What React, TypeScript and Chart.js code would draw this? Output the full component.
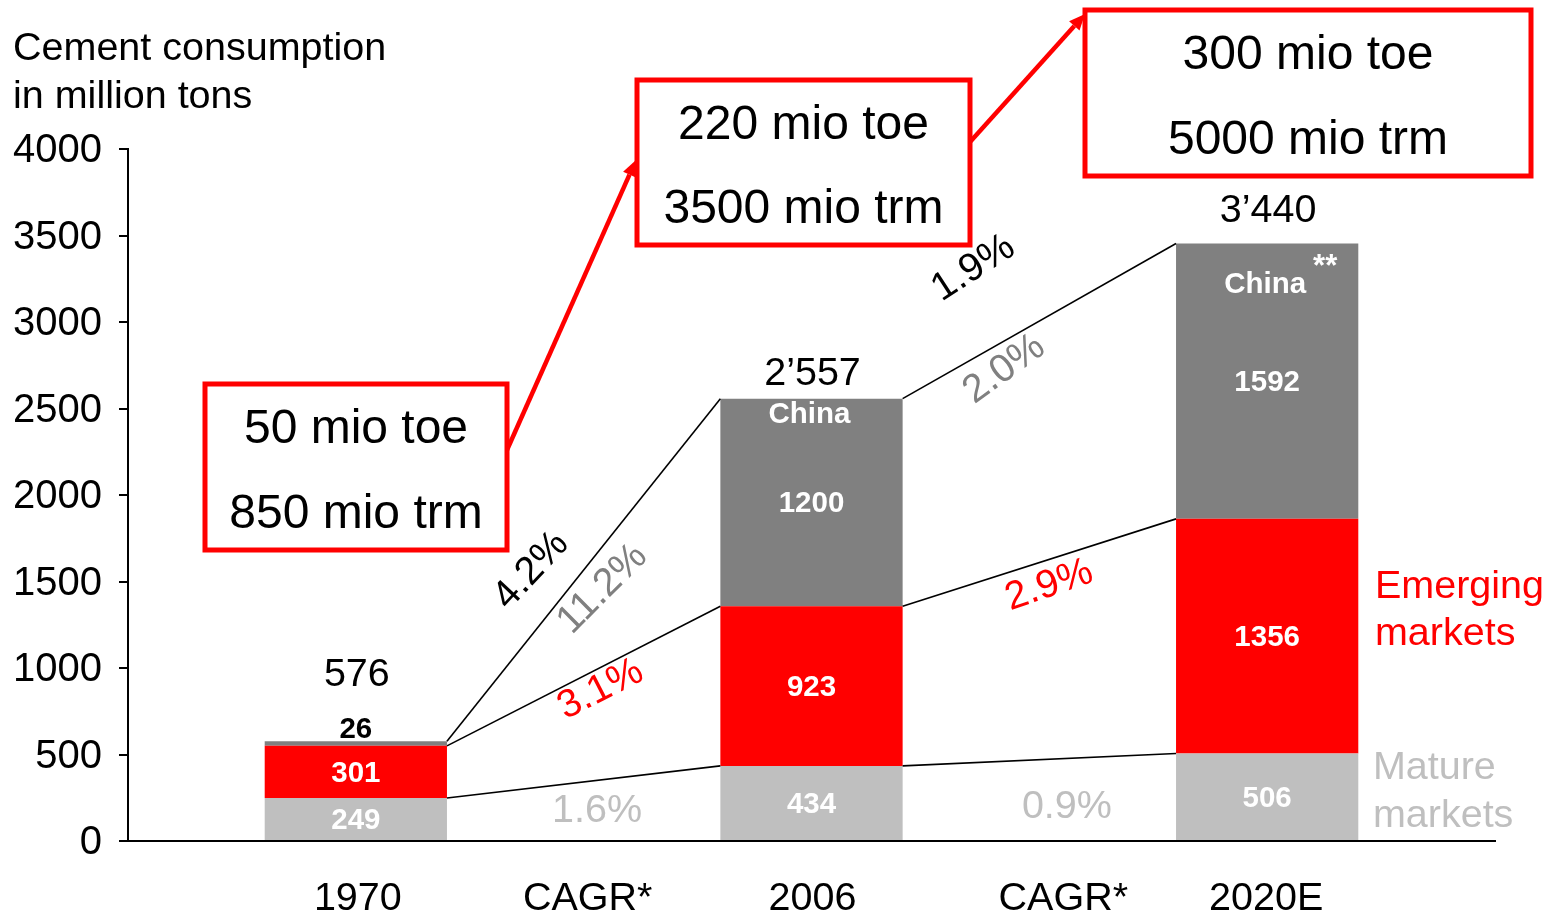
import React, { useEffect, useRef } from 'react';
import { Chart, registerables } from 'chart.js';

Chart.register(...registerables);

// ---- data ----
const categories = ['', '1970', 'CAGR*', '2006', 'CAGR*', '2020E', ''];
const matureMarkets = [null, 249, null, 434, null, 506, null];
const emergingMarkets = [null, 301, null, 923, null, 1356, null];
const china = [null, 26, null, 1200, null, 1592, null];
const totals = [576, 2557, 3440];

const cagrTotal = ['4.2%', '1.9%'];
const cagrChina = ['11.2%', '2.0%'];
const cagrEmerging = ['3.1%', '2.9%'];
const cagrMature = ['1.6%', '0.9%'];

const energyToe = [50, 220, 300];
const energyTrm = [850, 3500, 5000];

const yMin = 0;
const yMax = 4000;
const yStep = 500;

// ---- styling ----
const FONT = '"Liberation Sans", Arial, Helvetica, sans-serif';
const RED = '#ff0000';
const DARK = '#808080';
const LIGHT = '#bfbfbf';
const TXT = 39.5;
const BOLD_TXT = 29.5;

const W = 1555;
const H = 913;

// placement of growth-rate labels, in (category index, value) space
const cagrPlacement = {
  total: [
    { x: 1.762, y: 1572, rot: -47 },
    { x: 3.705, y: 3322, rot: -33 },
  ],
  china: [
    { x: 2.076, y: 1466, rot: -45 },
    { x: 3.84, y: 2738, rot: -36 },
  ],
  emerging: [
    { x: 2.07, y: 888, rot: -27 },
    { x: 4.04, y: 1490, rot: -19 },
  ],
  mature: [
    { x: 2.059, y: 185, rot: 0 },
    { x: 4.121, y: 208, rot: 0 },
  ],
};

const xLabelShift = [0, 2, 4, 1, 24, -1, 0];
const totalGap = [69, 27, 35];
const chinaLabelDrop = [0, 14, 40];

const energyBoxes = [
  { l: 205, t: 384, r: 507, b: 550 },
  { l: 637, t: 80, r: 970, b: 245 },
  { l: 1085, t: 10, r: 1531, b: 176 },
];
const arrows = [
  { x1: 507, y1: 450, x2: 636, y2: 160 },
  { x1: 970, y1: 142, x2: 1085, y2: 14 },
];

function fmtThousands(n: number) {
  return String(n).replace(/\B(?=(\d{3})+(?!\d))/g, '\u2019');
}

function drawText(
  ctx: CanvasRenderingContext2D,
  s: string,
  x: number,
  y: number,
  size: number,
  color: string,
  opts: { bold?: boolean; align?: CanvasTextAlign; rot?: number; baseline?: CanvasTextBaseline } = {}
) {
  ctx.save();
  ctx.translate(x, y);
  if (opts.rot) ctx.rotate((opts.rot * Math.PI) / 180);
  ctx.font = `${opts.bold ? 'bold ' : ''}${size}px ${FONT}`;
  ctx.fillStyle = color;
  ctx.textAlign = opts.align || 'center';
  const baseline = opts.baseline || 'middle';
  ctx.textBaseline = baseline;
  // nudge so that digits and capitals sit visually centred on y
  ctx.fillText(s, 0, baseline === 'middle' ? size * 0.06 : 0);
  ctx.restore();
}

const decorations = {
  id: 'decorations',
  afterDatasetsDraw(chart: any) {
    const ctx: CanvasRenderingContext2D = chart.ctx;
    const xs = chart.scales.x;
    const ys = chart.scales.y;
    const area = chart.chartArea;
    const barIdx = [1, 3, 5];

    // connectors between the tops of matching segments
    ctx.save();
    ctx.strokeStyle = '#000';
    ctx.lineWidth = 1.6;
    for (let d = 0; d < 3; d++) {
      const meta = chart.getDatasetMeta(d);
      for (let k = 0; k < barIdx.length - 1; k++) {
        const a = meta.data[barIdx[k]];
        const b = meta.data[barIdx[k + 1]];
        ctx.beginPath();
        ctx.moveTo(a.x + a.width / 2, a.y);
        ctx.lineTo(b.x - b.width / 2, b.y);
        ctx.stroke();
      }
    }
    ctx.restore();

    // segment values
    for (let d = 0; d < 3; d++) {
      const meta = chart.getDatasetMeta(d);
      const values = chart.data.datasets[d].data;
      barIdx.forEach((i) => {
        const el = meta.data[i];
        const v = values[i];
        if (v == null) return;
        const h = el.base - el.y;
        if (h < 30) {
          drawText(ctx, String(v), el.x, el.y - 13, BOLD_TXT, '#000', { bold: true });
        } else {
          drawText(ctx, String(v), el.x, (el.y + el.base) / 2, BOLD_TXT, '#fff', { bold: true });
        }
      });
    }

    // "China" captions
    const chinaMeta = chart.getDatasetMeta(2);
    barIdx.forEach((i, k) => {
      if (!chinaLabelDrop[k]) return;
      const el = chinaMeta.data[i];
      drawText(ctx, 'China', el.x - 2, el.y + chinaLabelDrop[k], BOLD_TXT, '#fff', { bold: true });
      if (k === 2) drawText(ctx, '**', el.x + 58, el.y + 22, 31, '#fff', { bold: true });
    });

    // totals
    barIdx.forEach((i, k) => {
      const el = chinaMeta.data[i];
      drawText(ctx, fmtThousands(totals[k]), el.x + 1, el.y - totalGap[k], TXT, '#000');
    });

    // growth rates
    const put = (labels: string[], places: any[], color: string) => {
      labels.forEach((s, k) => {
        const p = places[k];
        drawText(ctx, s, xs.getPixelForValue(p.x), ys.getPixelForValue(p.y), TXT, color, { rot: p.rot });
      });
    };
    put(cagrTotal, cagrPlacement.total, '#000');
    put(cagrChina, cagrPlacement.china, DARK);
    put(cagrEmerging, cagrPlacement.emerging, RED);
    put(cagrMature, cagrPlacement.mature, LIGHT);

    // series names on the right
    drawText(ctx, 'Emerging', xs.getPixelForValue(5.473), ys.getPixelForValue(1480), TXT, RED, { align: 'left' });
    drawText(ctx, 'markets', xs.getPixelForValue(5.473), ys.getPixelForValue(1208), TXT, RED, { align: 'left' });
    drawText(ctx, 'Mature', xs.getPixelForValue(5.464), ys.getPixelForValue(434), TXT, LIGHT, { align: 'left' });
    drawText(ctx, 'markets', xs.getPixelForValue(5.464), ys.getPixelForValue(156), TXT, LIGHT, { align: 'left' });

    // category labels under the axis
    categories.forEach((c, i) => {
      if (!c) return;
      drawText(ctx, c, xs.getPixelForValue(i) + xLabelShift[i], area.bottom + 56, TXT, '#000');
    });

    // axis title
    drawText(ctx, 'Cement consumption', 13, 60, TXT, '#000', { align: 'left', baseline: 'alphabetic' });
    drawText(ctx, 'in million tons', 13, 108, TXT, '#000', { align: 'left', baseline: 'alphabetic' });

    // energy call-out boxes
    ctx.save();
    ctx.strokeStyle = RED;
    ctx.lineWidth = 5;
    energyBoxes.forEach((b, k) => {
      ctx.strokeRect(b.l, b.t, b.r - b.l, b.b - b.t);
      const cx = (b.l + b.r) / 2;
      const h = b.b - b.t;
      drawText(ctx, `${energyToe[k]} mio toe`, cx, b.t + h * 0.26, 48, '#000');
      drawText(ctx, `${energyTrm[k]} mio trm`, cx, b.t + h * 0.77, 48, '#000');
    });
    ctx.restore();

    // arrows linking the boxes
    ctx.save();
    ctx.strokeStyle = RED;
    ctx.fillStyle = RED;
    ctx.lineWidth = 4.5;
    arrows.forEach((a) => {
      const ang = Math.atan2(a.y2 - a.y1, a.x2 - a.x1);
      const headLen = 16;
      const headHalf = 7;
      const bx = a.x2 - headLen * Math.cos(ang);
      const by = a.y2 - headLen * Math.sin(ang);
      ctx.beginPath();
      ctx.moveTo(a.x1, a.y1);
      ctx.lineTo(bx, by);
      ctx.stroke();
      ctx.beginPath();
      ctx.moveTo(a.x2, a.y2);
      ctx.lineTo(bx + headHalf * Math.sin(ang), by - headHalf * Math.cos(ang));
      ctx.lineTo(bx - headHalf * Math.sin(ang), by + headHalf * Math.cos(ang));
      ctx.closePath();
      ctx.fill();
    });
    ctx.restore();
  },
};

export default function App() {
  const ref = useRef<HTMLCanvasElement | null>(null);

  useEffect(() => {
    if (!ref.current) return;
    const chart = new Chart(ref.current, {
      type: 'bar',
      data: {
        labels: categories,
        datasets: [
          { label: 'Mature markets', data: matureMarkets, backgroundColor: LIGHT, borderWidth: 0 },
          { label: 'Emerging markets', data: emergingMarkets, backgroundColor: RED, borderWidth: 0 },
          { label: 'China', data: china, backgroundColor: DARK, borderWidth: 0 },
        ],
      },
      options: {
        responsive: false,
        animation: false,
        devicePixelRatio: 1,
        layout: { padding: { top: 149, right: 60, left: 0, bottom: 0 } },
        datasets: { bar: { categoryPercentage: 0.8, barPercentage: 1.0 } },
        plugins: {
          legend: { display: false },
          tooltip: { enabled: false },
        },
        scales: {
          x: {
            type: 'category',
            stacked: true,
            offset: false,
            grid: { display: true, drawOnChartArea: false, drawTicks: false, color: 'rgba(0,0,0,0)' },
            border: { display: true, color: '#000', width: 2 },
            ticks: { display: false },
            afterFit: (s: any) => {
              s.height = 72;
            },
          },
          y: {
            stacked: true,
            min: yMin,
            max: yMax,
            ticks: {
              stepSize: yStep,
              color: '#000',
              font: { family: FONT, size: 40 },
              padding: 17,
              labelOffset: 2,
              callback: (v: any) => String(v),
            },
            grid: { drawOnChartArea: false, drawTicks: true, tickLength: 9, color: '#000', lineWidth: 2 },
            border: { display: true, color: '#000', width: 2 },
            afterFit: (s: any) => {
              s.width = 128;
            },
          },
        },
      },
      plugins: [decorations],
    });
    return () => chart.destroy();
  }, []);

  return (
    <div style={{ position: 'fixed', left: 0, top: 0, width: W, height: H, background: '#fff' }}>
      <canvas ref={ref} width={W} height={H} style={{ width: W, height: H, display: 'block' }} />
    </div>
  );
}
